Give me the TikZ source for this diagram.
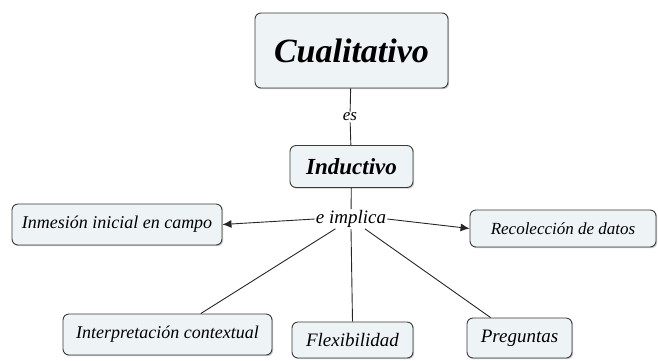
\documentclass[tikz,border=0pt]{standalone}
\usepackage{fontspec}
\setmainfont{Liberation Serif}[ItalicFont={Liberation Serif Italic},BoldItalicFont={Liberation Serif Bold Italic}]
\usetikzlibrary{arrows.meta,shadows}
\definecolor{boxfill}{HTML}{EEF3F6}
\definecolor{boxline}{HTML}{3A3A3A}
\newcommand{\fs}[1]{\fontsize{#1}{#1}\selectfont}
\begin{document}
\begin{tikzpicture}[x=1pt,y=-1pt,
  concept/.style={draw=boxline,line width=0.9pt,fill=boxfill,rounded corners=6pt,
    inner sep=0pt,
    drop shadow={shadow xshift=1.2pt,shadow yshift=-1.2pt,fill=black!35,opacity=0.6}},
  lbl/.style={fill=white,inner sep=1pt},
  conn/.style={draw=black!85,line width=0.9pt},
  arr/.style={conn,-{Latex[length=9pt,width=8pt]}}]
\useasboundingbox (0,0) rectangle (658,360);
\node[concept,minimum width=193pt,minimum height=75pt,font=\bfseries\itshape\fs{34}] (cual) at (351.5,50.5) {Cualitativo};
\node[concept,minimum width=123pt,minimum height=42pt,font=\bfseries\itshape\fs{23}] (ind) at (351.5,166.5) {Inductivo};
\node[lbl,font=\itshape\fs{17}] (es) at (350,117) {es};
\node[lbl,font=\itshape\fs{19}] (imp) at (351,219) {e implica};
\node[concept,minimum width=210pt,minimum height=41pt,font=\itshape\fs{18}] (inm) at (117,224.5) {Inmesión inicial en campo};
\node[concept,minimum width=186pt,minimum height=37pt,font=\itshape\fs{17}] (rec) at (563,228.5) {Recolección de datos};
\node[concept,minimum width=209pt,minimum height=41pt,font=\itshape\fs{18}] (int) at (167.5,334.5) {Interpretación contextual};
\node[concept,minimum width=121pt,minimum height=36pt,font=\itshape\fs{19}] (flex) at (352.5,340) {Flexibilidad};
\node[concept,minimum width=105pt,minimum height=40pt,font=\itshape\fs{19}] (preg) at (519.5,338) {Preguntas};
\draw[conn] (cual) -- (es);
\draw[conn] (es) -- (ind);
\draw[conn] (ind) -- (imp);
\draw[arr] (imp.west) -- (inm.east);
\draw[arr] (imp.east) -- (rec.west);
\draw[conn] (imp) -- (int);
\draw[conn] (imp.south) -- (flex.north);
\draw[conn] (imp) -- (preg);
\end{tikzpicture}
\end{document}
